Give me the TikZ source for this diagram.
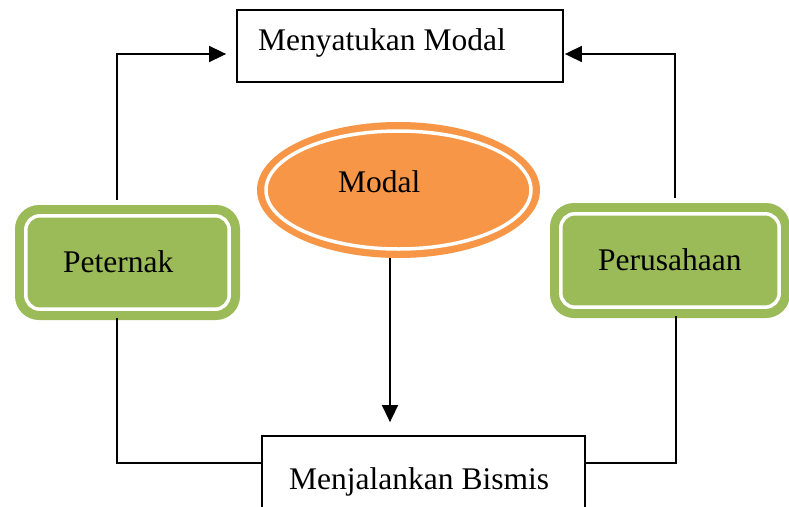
\documentclass[tikz,border=0pt]{standalone}
\usepackage{fontspec}
\setmainfont{Liberation Serif}
\usetikzlibrary{arrows.meta,shapes.geometric,calc}
\definecolor{ogreen}{HTML}{9BBB59}
\definecolor{oorange}{HTML}{F79646}
\begin{document}
\begin{tikzpicture}[x=1pt,y=-1pt,
  lbl/.style={font=\fontsize{31.5}{36}\selectfont, inner sep=0pt, anchor=base west},
  wbox/.style={draw=black, line width=1.8pt, fill=white, inner sep=0pt},
  gbox/.style={fill=ogreen, rounded corners=24pt, inner sep=0pt},
  ring/.style={draw=white, line width=3.5pt},
  conn/.style={draw=black, line width=1.6pt},
  arr/.style={conn, -{Triangle[length=17pt,width=16pt]}}]
\useasboundingbox (0,0) rectangle (789,506);
\clip (0,0) rectangle (789,506);
\fill[white] (0,0) rectangle (789,506);

% boxes
\node[wbox, minimum width=326pt, minimum height=72pt] (top) at (400,46) {};
\node[lbl] (toptxt) at (258,50) {Menyatukan Modal};

\node[wbox, minimum width=323pt, minimum height=104pt] (bot) at (423.5,488) {};
\node[lbl] (bottxt) at (289,489) {Menjalankan Bismis};

\node[gbox, minimum width=225pt, minimum height=115pt] (pet) at (127.5,262.5) {};
\draw[ring, rounded corners=14pt] ($(pet.north west)+(11,11)$) rectangle ($(pet.south east)+(-11,-11)$);
\node[lbl] (pettxt) at (63,272) {Peternak};

\node[gbox, minimum width=240pt, minimum height=115pt] (per) at (670,260.5) {};
\draw[ring, rounded corners=14pt] ($(per.north west)+(11,11)$) rectangle ($(per.south east)+(-11,-11)$);
\node[lbl] (pertxt) at (598,270) {Perusahaan};

\node[ellipse, fill=oorange, minimum width=283pt, minimum height=136pt, inner sep=0pt] (mod) at (398.5,190) {};
\draw[ring] (mod.center) ellipse [x radius=132.5, y radius=59];
\node[lbl] (modtxt) at (338,192) {Modal};

% connectors
\draw[arr] ($(pet.north)+(-10.5,-5)$) |- ($(top.west)+(-10,8)$);
\draw[arr] ($(per.north)+(5,-5)$) |- ($(top.east)+(1,8)$);
\draw[arr] ($(mod.south)+(-8.5,0)$) -- ($(bot.north)+(-33.5,-13)$);
\draw[conn] ($(pet.south)+(-10.5,-2)$) |- ($(bot.west)+(0,-25)$);
\draw[conn] ($(per.south)+(6,-2)$) |- ($(bot.east)+(0,-25)$);
\end{tikzpicture}
\end{document}
